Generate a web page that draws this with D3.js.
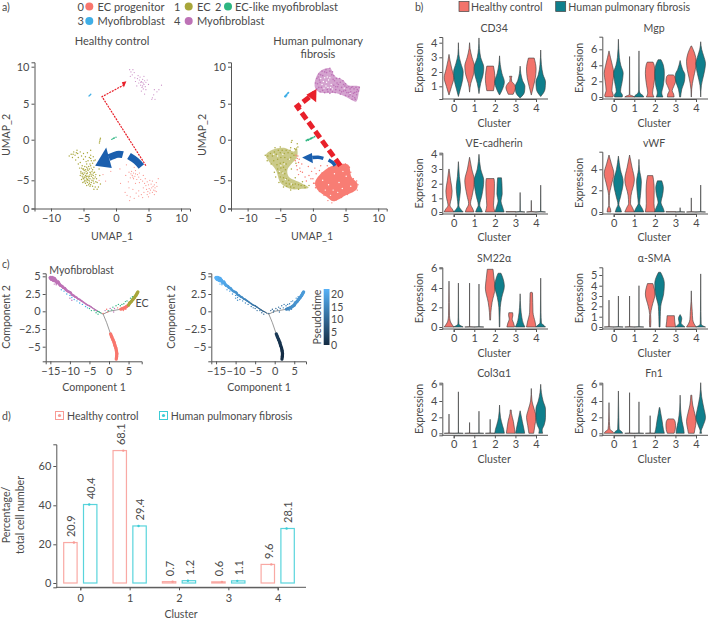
<!DOCTYPE html>
<html><head><meta charset="utf-8">
<script src="https://cdn.jsdelivr.net/npm/d3@7"></script>
<style>html,body{margin:0;padding:0;background:#fff}svg{display:block}</style>
</head><body><svg id="c" width="710" height="622"></svg>
<script>
const FONT='Lato,"Noto Sans",sans-serif';
const clusterColors=['#F8766D','#A8A63A','#2DB682','#3FAEE6','#BD72B6'];
const clusterLegend=[['0','EC progenitor'],['1','EC'],['2','EC-like myofibroblast'],['3','Myofibroblast'],['4','Myofibroblast']];
const groups=['Healthy control','Human pulmonary fibrosis'];
const violinColors=['#F2736B','#0F7F8C'];
const clusters=[0,1,2,3,4];

// UMAP clouds (UMAP_1, UMAP_2)
const hPurple=[[2.1,9.6],[2.3,9.3],[2.6,9.6],[2.8,9.2],[2.5,8.9],[2.2,8.7],[2.9,8.5],[3.3,8.4],[3.6,8.2],[3.9,8],[4.1,8.3],[4.4,8.1],[4.6,7.9],[3.5,7.8],[3.8,7.5],[4,7.2],[4.3,7.6],[4.5,7.3],[4.2,7],[3.9,6.7],[4.6,6.9],[5,7.6],[3.2,7.4],[3,8],[4.8,8.2],[5.6,5.8],[6,5.6],[5.8,6.2],[6.3,6.6],[5.9,6.9],[7,7.5],[6.6,6.9],[5.5,5.6],[4.4,6.3],[4,7.9],[3.7,8.6],[3.4,8.8],[4.3,8.7],[3.8,7.9],[4.2,7.8],[4.1,7.4]];
const hBlue=[[-4.15,6.05],[-4.05,6.12],[-3.95,6.2],[-3.88,6.28]];
const hGreen=[[-0.65,0.05],[-0.5,0.12],[-0.38,0.2],[-0.25,0.24],[0,0.35]];
const hOlive=[[-2.55,-0.4],[-2.5,-0.2],[-2.45,0],[-2.4,0.2],[-7.2,-2],[-6.9,-1.8],[-6.7,-2.2],[-6.5,-1.5],[-6.3,-1.9],[-6,-1.3],[-5.9,-1.7],[-6.2,-2.5],[-5.8,-2.2],[-5.5,-1.5],[-5.3,-2],[-5,-1.7],[-4.7,-2.1],[-4.4,-1.6],[-4.1,-2.2],[-3.9,-1.9],[-3.5,-2.1],[-3.2,-2.5],[-3.8,-2.6],[-4.3,-2.6],[-3.6,-2.9],[-4,-3],[-5.5,-2.8],[-5.2,-3.2],[-5.8,-3],[-5.6,-3.5],[-5.1,-3.6],[-4.8,-3.3],[-4.5,-3.4],[-4.2,-3.3],[-3.8,-3.5],[-3.4,-3.4],[-5.4,-3.9],[-5.1,-4.1],[-4.9,-3.8],[-4.6,-3.9],[-4.3,-3.8],[-4,-4],[-3.7,-3.9],[-3.3,-4],[-5.5,-4.4],[-5.2,-4.5],[-5,-4.3],[-4.7,-4.4],[-4.5,-4.2],[-4.3,-4.5],[-4,-4.3],[-3.8,-4.5],[-3.5,-4.4],[-3.1,-4.3],[-5.3,-4.9],[-5,-4.8],[-4.8,-5],[-4.5,-4.8],[-4.3,-5],[-4,-4.8],[-3.7,-5],[-3.4,-4.8],[-3,-4.8],[-5.1,-5.3],[-4.7,-5.4],[-4.4,-5.3],[-4.1,-5.4],[-3.8,-5.3],[-3.4,-5.4],[-2.9,-5.3],[-4.5,-5.7],[-4,-5.8],[-3.6,-5.8],[-3.2,-5.9],[-2.7,-5.9],[-3.4,-6.2],[-2.9,-6.2],[-2.4,-5.5],[-2.5,-4.4],[-2.6,-3.6],[-3,-3.1],[-3.9,-1.3],[-4.9,-4.6],[-4.6,-4.6],[-4.2,-4.7],[-3.9,-4.1],[-4.4,-4.1],[-4.8,-4.1],[-4.1,-5.1],[-3.6,-4.7],[-5.2,-4.2],[-4.6,-5.1],[-5.4,-4.1],[-5,-3.6],[-4.7,-3.7],[-4.4,-3.6],[-4.1,-3.6],[-3.6,-3.7],[-3.5,-4.1],[-3.2,-4.6],[-3.7,-4.3],[-4.1,-4.5],[-4.5,-4.5],[-4.8,-4.7],[-5.1,-4.7],[-4.4,-4.9],[-4.9,-5.2],[-4.2,-5.6],[-3.9,-5.6],[-3.5,-5.1],[-3.1,-5.2],[-6.6,-1.8],[-6.1,-1.6],[-5,-2.4],[-4.6,-2.7],[-3.9,-2.3],[-3.4,-2.6],[-4.5,-3],[-3.9,-3.2],[-5.3,-3.5]];
const hSalmon=[[2,-4],[2.4,-3.9],[2.7,-4.1],[3,-3.8],[2.5,-4.4],[2.9,-4.5],[3.3,-4.3],[3.6,-4.1],[2.2,-4.7],[2.7,-4.8],[3.2,-4.9],[3.5,-4.6],[3.8,-4.9],[1.9,-5.2],[3,-5.4],[3.6,-5.3],[4.1,-5.1],[4.4,-5.4],[4.8,-5.2],[5.2,-5],[5.6,-5.1],[4.6,-5.7],[5,-5.6],[5.4,-5.5],[5.9,-5.6],[6.2,-5.3],[4.2,-6],[4.7,-6.2],[5.1,-6.1],[5.5,-6],[5.8,-6.3],[6,-6],[6.2,-6.5],[5.6,-6.6],[5.2,-6.7],[4.8,-6.9],[4.3,-6.6],[3.9,-6.9],[3.5,-6.4],[3.1,-6.7],[2.6,-6.2],[2,-6],[1.4,-6.6],[1.7,-7],[2.2,-7.2],[2.8,-7.4],[3.5,-7.1],[4.1,-7.3],[5,-7.2],[5.9,-6.9],[6.3,-5.8],[6.5,-4.8],[0.6,-3.6],[1.5,-4.4],[-0.8,-3.9],[-2,-4.3],[-1.6,-5.1],[-2.6,-5],[1.6,-3.1],[2.8,-3.4],[4.2,-4.4],[2.1,-7.7],[0.7,-5.4],[4.5,-4.8],[2.6,-4.6],[3,-4.2],[2.3,-4.2],[5.7,-5.8],[5.3,-6.3],[6,-6.4],[4.9,-6.5]];

const fPurpleOutline=[[0.35,8.2],[1.1,9.4],[2.6,9.8],[3.4,8.7],[4.6,8.2],[5.4,7.5],[7.15,7.3],[7.05,6.6],[6.65,5.3],[5.9,5.5],[5.1,5.9],[3.6,6.4],[1.1,6.5],[0.35,7.1]];
const fOliveOutline=[[-7.2,-1.9],[-6.2,-1.25],[-4.45,-1],[-2.9,-1.45],[-2.5,-.9],[-2.4,-2.1],[-3.2,-2.9],[-3.9,-3.7],[-3.7,-4.55],[-2.2,-5.2],[-0.65,-6],[-1.9,-6.15],[-3.4,-6.15],[-4.9,-5.4],[-5.7,-3.7],[-6.9,-2.5]];
const fSalmonOutline=[[0.35,-5.2],[1.9,-3.7],[3.6,-3.1],[5.4,-3.1],[5.9,-4.55],[6.8,-5.4],[6.7,-6.2],[4.9,-7.05],[3.1,-7.8],[2.1,-7.2],[0.6,-6.15]];
const fPurple=[[0.4,7.8],[0.6,8.4],[0.9,9],[1.4,9.4],[2,9.6],[2.6,9.8],[3,9.3],[3.2,8.8],[3.6,8.4],[4.1,8.4],[4.6,8.1],[5,7.7],[5.5,7.3],[6.1,7.3],[6.6,7.2],[7.1,7.2],[7,6.7],[6.7,6.2],[6.5,5.6],[6,5.6],[5.5,6],[5,6.1],[4.2,6.3],[3.4,6.5],[2.6,6.4],[1.8,6.5],[1.1,6.6],[0.6,7],[4.4,7.2],[5,6.8],[5.8,6.6],[6.2,6.4],[3.8,7.3],[1,8.2],[1.5,8.8],[2.1,9.2],[2.9,8.9],[3.3,8.1],[3.7,7.8],[4.2,7.9],[4.7,7.6],[5.2,7.2],[5.7,7],[6.3,7],[6.8,6.9],[6.4,6.5],[6.1,6],[6.4,5.8],[5.7,6.2],[5.2,6.5],[4.7,6.7],[4.1,6.8],[3.5,6.9],[3,6.6],[2.3,6.6],[1.5,6.8],[0.9,7.2],[0.7,7.7],[1.1,7.9],[1.3,7.2],[3.2,7.5],[3.5,7.3],[2.6,9.4],[1.8,9.3],[1.2,8.9],[0.8,8.6],[2.2,6.9],[2.7,6.9],[4.4,6.6],[5.5,6.5],[6.7,6.6],[5.9,7.2],[4.9,7.4],[3.9,7.6],[3.1,8.3]];
const fBlue=[[-4.3,6],[-4.15,6.12],[-4,6.25],[-3.85,6.4],[-3.75,6.5],[-4.2,5.95],[-4.05,6.1]];
const fGreen=[[-1,-0.1],[-0.8,0],[-0.6,0.05],[-0.4,0.12],[-0.2,0.2],[0,0.3],[0.25,0.42],[-0.7,-0.05],[-0.3,0.18]];
const fOlive=[[-3.3,-0.3],[-3.2,-0.1],[-2.4,-0.5],[-2.3,-0.9],[-2.6,-1.2],[-3.4,-1],[-5,-0.9],[-5.8,-1],[-7.3,-1.9],[-7,-2.6],[-6.4,-3],[-5.9,-4],[-5.7,-4.6],[-5.2,-5.3],[-4.5,-5.9],[-3.4,-6.3],[-2.2,-6.2],[-1.2,-6],[-0.6,-5.7],[-1.6,-5.2],[-2.7,-4.7],[-3.3,-3.6],[-2.6,-2.9],[-6.9,-2],[-6.5,-1.7],[-6.2,-2],[-5.9,-1.5],[-5.6,-1.8],[-5.3,-1.3],[-5,-1.6],[-4.7,-1.3],[-4.4,-1.7],[-4.1,-1.3],[-3.8,-1.6],[-3.5,-1.3],[-3.2,-1.7],[-2.8,-1.1],[-2.9,-1.9],[-3.4,-2.2],[-3.8,-2.4],[-4.3,-2.2],[-4.9,-2.2],[-5.4,-2.4],[-6,-2.6],[-5.5,-3.1],[-5,-2.9],[-4.5,-2.8],[-4.1,-3],[-5.4,-3.6],[-4.9,-3.5],[-4.5,-3.4],[-4.2,-3.7],[-5.2,-4.1],[-4.7,-4],[-4.3,-4.2],[-5,-4.6],[-4.5,-4.7],[-4.1,-4.8],[-3.7,-5],[-4.6,-5.2],[-4.1,-5.4],[-3.6,-5.5],[-3.1,-5.6],[-2.7,-5.5],[-2.2,-5.6],[-1.8,-5.7],[-1.3,-5.7],[-3.4,-5.9],[-2.9,-6],[-4,-5.8]];
const fSalmon=[[-2.6,-1.9],[-2.4,-2.3],[-2.2,-2.8],[-2.5,-3.2],[-2,-3.5],[-1.6,-4],[-2.2,-4.3],[-1.2,-4.6],[-0.6,-4.4],[-1.7,-3],[-0.7,-3.3],[-0.2,-3.9],[0,-4.8],[0.5,-4.2],[1,-3.8],[1.2,-3.2],[2.2,-3.2],[-2.4,-3.7],[-1,-5.1],[-2.1,-2.4],[-2.3,-2],[-1.9,-3.9],[-2.7,-2.6],[0.3,-3.5],[-0.3,-4.8],[0.1,-5.4],[1,-4.6],[1.4,-4.1],[2.4,-3.5],[3.2,-3.3],[4.1,-3],[5,-3],[5.6,-3.4],[5.8,-4],[6.2,-4.8],[6.7,-5.1],[6.9,-5.6],[6.8,-6.3],[6,-6.5],[5.3,-6.9],[4.4,-7.3],[3.6,-7.6],[2.9,-8],[2.3,-7.7],[1.7,-7],[1,-6.5],[0.4,-6],[0.2,-5.4]];
const whiteSpeckle=[[1.2,8.4],[1.8,8.5],[2.4,8.2],[2,7.4],[1.4,7.6],[2.8,7.6],[3,7],[1.7,7.1],[2.3,7.2],[1.6,8],[2.1,7.9],[2.6,8.5],[2.7,7.2],[2.2,8.6],[5.7,6.4],[4.8,7.1],[-5.4,-2],[-4.6,-1.8],[-4.9,-3.2],[-4.6,-4.1],[-3.3,-5.5],[-4.2,-4.9],[-3.6,-2.4],[-6,-1.8],[-5.1,-3.9],[-4.4,-3],[1.5,-5],[2.4,-5.6],[3.3,-4.2],[4,-5.3],[5.1,-4.5],[3.1,-6.3],[4.5,-6.1],[5.8,-5.8],[2.7,-7],[1.9,-6.3],[3.8,-6.6],[4.6,-3.9]];

// Annotation arrows in UMAP coordinates
const hRedPath=[[4.6,-3.2],[-2.15,5.95],[1.35,7.6]];
const hRedHead=[[1.6,8.05],[0.9,7.9],[1.2,7.2]];
const hBlueTail=[[3.9,-3.3],[3.1,-2.6],[2,-2]];
const hBlueBody=[[1.05,-1.85],[0.2,-1.8],[-1.1,-2.2]];
const hBlueHead=[[-3.2,-3.2],[-1.5,-0.95],[-0.65,-3.5]];
const fRedPath=[[4.2,-3.2],[-2.4,4.6],[0.2,6.4]];
const fRedHead=[[0.55,7],[-1,6.2],[0.5,5.2]];
const fBlueTail=[[3.4,-3.2],[3,-2.8],[2.4,-2.5]];
const fBlueBody=[[1.6,-2.3],[0.8,-2.15],[-0.1,-2.2]];
const fBlueHead=[[-1.65,-2.2],[-0.15,-1.65],[0,-2.9]];

// Violin profiles: [expression, relative half width], healthy then fibrosis per cluster
const violinCD34=[
[[[.4,0],[1,.55],[1.6,1],[2.2,.6],[2.8,.2],[3.2,0]],[[.3,0],[.8,.4],[1.5,.9],[2,1],[2.6,.5],[3.2,.1],[4,0]]],
[[[.6,0],[1.2,.25],[1.8,.8],[2.4,1],[3,.5],[3.6,.1],[4,0]],[[.5,0],[1.2,.35],[1.8,.85],[2.3,1],[3,.35],[3.6,.1],[4.3,0]]],
[[[.7,.7],[.9,.8],[1.5,1],[2,.9],[2.4,.7]],[[.4,0],[.8,.6],[1.3,1],[1.9,.5],[2.5,.15],[3.1,0]]],
[[[.45,.5],[.6,.7],[.9,1],[1.2,.6],[1.35,.2],[1.55,.15],[1.7,.25]],[[.2,0],[.6,.9],[1,1],[1.4,.5],[1.9,.15],[2.4,0]]],
[[[.4,0],[1,.45],[1.6,.85],[2.2,1],[2.95,.6]],[[.3,0],[.8,.9],[1.3,1],[1.8,.5],[2.5,.15],[3.5,0]]]];
const violinMgp=[
[[[0,.8],[.2,.9],[.8,.6],[2,.8],[3,1],[4,.7],[5,.3],[5.8,0]],[[0,.8],[.2,.85],[.7,.45],[2,.8],[3,1],[4,.5],[5,.2],[7.2,0]]],
[[[0,1],[.15,.6],[.3,.05],[5.1,0]],[[0,1],[.2,.8],[.5,.2],[1,.05],[5.8,0]]],
[[[0,.8],[.5,.5],[1.5,.75],[3,1],[4,.85],[4.4,.6]],[[0,.7],[.5,.45],[1.5,.8],[3,1],[4,.8],[4.7,.3]]],
[[[0,.7],[.4,.6],[.8,.3],[1.3,.6],[2,1],[2.6,.85],[2.8,.5]],[[0,.1],[1,.35],[2,.9],[2.8,1],[3.5,.5],[4.6,0]]],
[[[0,.02],[1,.08],[2.4,.45],[3.5,.85],[4.5,1],[5.5,.7],[6.4,.05]],[[0,0],[1.5,.15],[3,.7],[4.2,1],[5.2,.6],[6,.2],[6.9,0]]]];
const violinVE=[
[[[0,1],[.15,.8],[.5,.2],[1,.5],[1.5,.65],[2.2,.35],[3,.02]],[[0,1],[.15,.6],[.5,.1],[1,.25],[1.7,.45],[2.5,.2],[3.5,0]]],
[[[0,.9],[.2,.7],[.6,.2],[1.2,.55],[2.2,1],[3,.45],[3.8,0]],[[0,.7],[.2,.5],[.5,.15],[1.2,.6],[2.2,1],[3,.35],[4,0]]],
[[[0,1],[.5,.7],[1.2,.85],[2,.9],[2.35,.8]],[[0,.95],[.4,.6],[.8,.3],[1.3,.55],[2,.5],[2.4,.4]]],
[[[0,1],[.03,1]],[[0,1],[.04,.04],[1.4,0]]],
[[[0,1],[.04,.04],[.85,0]],[[0,1],[.04,.04],[1.9,0]]]];
const violinVWF=[
[[[0,.4],[.3,.3],[.6,.05],[1.5,.08],[2.5,.5],[3.6,1],[4.5,.5],[5.3,0]],[[0,.65],[.3,.45],[.7,.1],[1.5,.5],[2.8,1],[4,.4],[5.2,0]]],
[[[0,1],[.4,.6],[.8,.2],[1.5,.3],[3,1],[4.2,.5],[5.3,0]],[[0,1],[.3,.7],[.8,.15],[1.5,.3],[2.8,.5],[4,.1],[4.9,0]]],
[[[0,1],[.8,.8],[2,.85],[3,.7],[3.4,.55]],[[0,1],[.3,.8],[.9,.3],[1.5,.6],[2.2,.8],[2.9,.45]]],
[[[0,1],[.03,1]],[[0,1],[.03,.02],[.4,0]]],
[[[0,1],[.03,.02],[1.3,0]],[[0,1],[.03,.02],[2.5,0]]]];
const violinSM22=[
[[[0,1],[.2,.7],[.6,.25],[1.2,.1],[2.5,.06],[4.7,0]],[[0,1],[.1,.6],[.3,.1],[1,.05],[4.5,0]]],
[[[0,1],[.03,.02],[4.5,0]],[[0,1],[.03,.02],[4.4,0]]],
[[[.7,.08],[1.5,.15],[2.5,.4],[4,1],[5,.8],[5.9,.6]],[[0,.05],[1,.08],[2,.15],[3,.45],[4.2,1],[5,.7],[5.5,.3]]],
[[[0,.8],[.4,.6],[.8,.3],[1.2,.45],[1.45,.4]],[[0,1],[.3,.7],[1,.35],[2,.12],[3.4,0]]],
[[[0,1],[.5,.8],[1.5,.35],[2.5,.3],[3.5,.25],[3.55,.1]],[[0,1],[.15,.7],[.4,.15],[1.5,.06],[5,0]]]];
const violinSMA=[
[[[0,1],[.03,.02],[2.6,0]],[[0,1],[.03,.02],[3,0]]],
[[[0,1],[.03,.02],[3,0]],[[0,1],[.03,.02],[4,0]]],
[[[0,.1],[.6,.15],[1.2,.1],[2,.4],[3.2,1],[4,.7],[4.2,.55]],[[0,.1],[1,.15],[2,.25],[3.2,.85],[4.2,1],[5,.5],[5.25,.2]]],
[[[0,1],[.5,.85],[1.1,.75]],[[0,1],[.15,.6],[.4,.2],[.8,.35],[1.2,0]]],
[[[0,1],[.3,.6],[.7,.3],[1.5,.2],[2.5,.05],[3.5,0]],[[0,1],[.1,.5],[.3,.1],[.7,.08],[1.5,.05],[5.1,0]]]];
const violinCol3=[
[[[0,1],[.03,.02],[2.4,0]],[[0,1],[.03,.02],[5.1,0]]],
[[[0,1],[.03,.02],[1.35,0]],[[0,1],[.03,.02],[2.75,0]]],
[[[0,1],[.03,.02],[1.75,0]],[[0,1],[.5,.85],[1,.6],[2,.2],[3.5,0]]],
[[[0,.9],[.5,.8],[1.5,.55],[2.5,.15],[2.9,.1]],[[0,.95],[.5,.8],[1.5,.45],[2.8,0]]],
[[[0,.5],[.4,.6],[1,.75],[2,1],[3,.6],[4,.15],[5.5,0]],[[0,.4],[.4,.3],[1,.7],[2,1],[3,1],[4,.5],[5,.15],[6,0]]]];
const violinFn1=[
[[[0,1],[.2,.8],[.5,.2],[1.5,.08],[3.8,0]],[[0,.9],[.2,.7],[.5,.15],[2,.08],[5.2,0]]],
[[[0,1],[.03,.02],[5,0]],[[0,1],[.03,.02],[3.9,0]]],
[[[0,1],[.03,.02],[2.2,0]],[[0,1],[.5,.8],[1.5,.55],[2.5,.25],[3.2,.05]]],
[[[0,.7],[.5,.95],[1,1],[1.5,.9],[1.8,.6]],[[0,.85],[.5,.75],[1.5,.4],[3,.1],[4.7,0]]],
[[[0,.6],[.5,.75],[1.5,1],[2.5,.7],[3.5,.3],[4.7,.1]],[[0,.2],[.3,.1],[.8,.4],[2,1],[3,.7],[4.5,.2],[6.2,0]]]];

// Trajectory: [component1, component2, cluster, pseudotime]
const trajMyo=[[-15,4.8,4,20],[-14.7,4.6,4,20],[-14.5,4.8,4,20],[-14.3,4.5,4,20],[-14,4.4,4,19.5],[-14,4.7,4,19.5],[-13.6,4.4,4,19],[-13.3,4.1,4,19],[-13,4.2,4,19],[-12.7,3.9,4,18.5],[-12.4,3.7,4,18],[-12,3.6,4,18],[-11.7,3.4,4,17.5],[-11.3,3.3,4,17],[-11,3.1,4,17],[-10.6,2.9,4,16.5],[-10.2,2.8,4,16],[-9.8,2.7,4,15.5],[-9.5,2.4,4,15],[-9.1,2.3,4,15],[-8.7,2.1,4,14.5],[-8.3,2,4,14],[-7.9,1.8,4,14],[-7.5,1.7,4,13.5],[-7,1.5,4,13],[-6.5,1.3,4,12.5],[-6,1.1,4,12],[-5.5,.9,4,11.5],[-5,.8,4,11],[-4.5,.6,4,10.5],[-4,.4,4,10],[-3.5,.2,4,9.5],[-3,0,4,9],[-2.5,-.1,2,8.5],[-2,-.3,2,8]];
const trajMyoScatter=[[-12.2,3.1,3,18],[-11.5,2.9,3,17],[-10.8,2.5,3,16],[-10,2.3,3,15.5],[-9.5,2,3,15],[-8.9,1.7,3,14.5],[-8.2,1.5,3,14],[-7.5,1.2,3,13.5],[-6.8,1,3,13],[-6,.7,3,12],[-13.5,3.8,4,19],[-14,3.9,4,19.5],[-10,1.9,4,15],[-9.5,1.6,4,15],[-5,.4,2,11],[-4.5,.1,2,10.5],[-3.8,.1,2,10],[-3.3,-.2,2,9.5],[-5.5,.5,3,11.5],[-2.8,-.4,2,9]];
const trajEC=[[3,.3,0,13],[3.5,.4,0,13.5],[4,.5,0,14],[4.5,.7,0,14.5],[5,.9,0,15],[5.3,1.2,1,15],[5.7,1.4,1,15.5],[6.1,1.7,1,15.5],[6.5,2,1,16],[6.9,2.3,1,16],[7.2,2.6,1,16.5],[7.4,2.8,1,16.5]];
const trajECScatter=[[-1.5,-.3,0,8],[-1,.1,4,8.5],[-.6,.3,0,9],[-.2,.1,2,9],[.3,.4,4,9.5],[.7,.2,2,10],[1,.6,2,10.5],[1.4,.4,4,10.5],[1.8,.8,2,11],[2.2,.5,0,11.5],[2.4,1,2,11.5],[2.9,.8,2,12],[3.3,1,2,12.5],[3.8,1.1,2,13],[4.2,1.4,2,13.5],[4.6,1.5,2,14],[4.3,.3,0,14],[3.7,.1,0,13.5],[5.5,1.9,2,15],[6,2.1,2,15.5],[1.2,-.1,4,10],[-.3,-.1,0,9]];
const trajProg=[[.4,-3.2,0,2.5],[.7,-3.6,0,2.2],[1,-4,0,2],[1.3,-4.4,0,1.6],[1.5,-4.8,0,1.2],[1.75,-5.2,0,1],[1.9,-5.6,0,.6],[2,-6,0,.4],[1.95,-6.4,0,.2],[1.85,-6.8,0,0]];
const backbone=[[[-1.5,-.4],[-5,.75]],[[-1.5,-.4],[0,0],[3,.3]],[[-1.5,-.4],[-.6,-1.6],[.4,-3.2]]];
const ptColors=['#132B43','#56B1F7'];
const ptTicks=[0,5,10,15,20];

// Panel d
const pctHealthy=[20.9,68.1,.7,.6,9.6];
const pctFibrosis=[40.4,29.4,1.2,1.1,28.1];
const barColors=['#F89A94','#3CCCD6'];

const svg=d3.select('#c').style('font-family',FONT);
const INK='#4a4a4a',AX='#555',SQUEEZE=.92;
function squeeze(t){const n=t.node();const w=n.getComputedTextLength();
  t.attr('textLength',w*SQUEEZE).attr('lengthAdjust','spacingAndGlyphs');return t;}
function txt(x,y,s,o={}){const t=svg.append('text').attr('x',x).attr('y',y).attr('dy','.35em').text(s)
  .attr('fill',INK).attr('font-size',o.size||11.5).attr('text-anchor',o.anchor||'start');
  if(o.rot!=null)t.attr('transform',`rotate(${o.rot} ${x} ${y})`);return squeeze(t);}
function axes(x,y,xy,yx,xt,yt,xf,yf,pad){
  const ax=d3.axisBottom(x).tickValues(xt).tickSize(3).tickPadding(pad||3);if(xf)ax.tickFormat(xf);
  const ay=d3.axisLeft(y).tickValues(yt).tickSize(3).tickPadding(2);if(yf)ay.tickFormat(yf);
  [svg.append('g').attr('transform',`translate(0,${xy})`).call(ax),
   svg.append('g').attr('transform',`translate(${yx},0)`).call(ay)].forEach(g=>{
    g.selectAll('path,line').attr('stroke',AX).attr('stroke-width',1);
    g.selectAll('text').attr('fill',INK).style('font-family',FONT).style('font-size','11px');
  });
}
const minus=d=>String(d).replace('-','\u2212');

// Panel labels
txt(2,7,'a)');txt(415,7,'b)');txt(2,264,'c)');txt(2,416,'d)');

// Legend a
const legX=[[77.5,89.3,97.5],[174,188.7,197],[215,228,235],[77.5,89.3,97.5],[174,188.7,197]];
const legY=[6.5,6.5,6.5,21,21];
clusterLegend.forEach((d,i)=>{txt(legX[i][0],legY[i],d[0],{size:12});
  svg.append('circle').attr('cx',legX[i][1]).attr('cy',legY[i]).attr('r',4).attr('fill',clusterColors[i]);
  txt(legX[i][2],legY[i],d[1],{size:12});});

// UMAP panels
const yU=d3.scaleLinear().domain([10.65,10,5,0,-5,-8.75]).range([62.3,66.7,103.7,139.7,180.3,208.5]);
const yuTicks=[10,5,0,-5,-8.75];
const yuFmt=d=>d===-8.75?'0':minus(d);
function umap(x0,x1,opts){
  const x=d3.scaleLinear().domain(opts.xd).range([x0,x1]);
  axes(x,yU,208.5,x0,[-10,-5,0,5,10],yuTicks,minus,yuFmt);
  const line=d3.line().x(d=>x(d[0])).y(d=>yU(d[1]));
  const closed=d3.line().x(d=>x(d[0])).y(d=>yU(d[1])).curve(d3.curveCatmullRomClosed);
  opts.polys.forEach(p=>svg.append('path').attr('d',closed(p[0])).attr('fill',clusterColors[p[1]]).attr('fill-opacity',p[2]));
  opts.clouds.forEach(c=>svg.append('g').selectAll('circle').data(c[0]).join('circle')
    .attr('cx',d=>x(d[0])).attr('cy',d=>yU(d[1])).attr('r',c[2]).attr('fill',c[1]));
  const o=opts.arrows;
  svg.append('path').attr('d',line(o.red)).attr('fill','none').attr('stroke','#E8202A').attr('stroke-width',o.rw).attr('stroke-dasharray',o.rd).attr('stroke-linejoin','miter');
  svg.append('path').attr('d',line(o.rh)+'Z').attr('fill','#E8202A');
  const cv=d3.line().x(d=>x(d[0])).y(d=>yU(d[1])).curve(d3.curveCardinal);
  svg.append('path').attr('d',cv(o.bt)).attr('fill','none').attr('stroke','#1B5FAE').attr('stroke-width',o.bw);
  svg.append('path').attr('d',cv(o.bb)).attr('fill','none').attr('stroke','#1B5FAE').attr('stroke-width',o.bw);
  svg.append('path').attr('d',line(o.bh)+'Z').attr('fill','#1B5FAE');
}
const xdL=[(34.5-116)/6.5,(190-116)/6.5], xdR=[(231-312.9)/6.53,(386.7-312.9)/6.53];
umap(34.5,190,{xd:xdL,polys:[],clouds:[[hPurple,'#C98BC4',.6],[hBlue,clusterColors[3],.7],[hGreen,clusterColors[2],.7],[hOlive,clusterColors[1],.7],[hSalmon,'#F9918A',.6]],
  arrows:{red:hRedPath,rh:hRedHead,rw:1.2,rd:'2 1',bt:hBlueTail,bb:hBlueBody,bh:hBlueHead,bw:7}});
umap(231,386.7,{xd:xdR,polys:[[fPurpleOutline,4,.65],[fOliveOutline,1,.6],[fSalmonOutline,0,.95]],clouds:[[fPurple,clusterColors[4],.8],[fBlue,clusterColors[3],.9],[fGreen,clusterColors[2],.9],[fOlive,clusterColors[1],.75],[fSalmon,clusterColors[0],.7],[whiteSpeckle,'#fff',.7]],
  arrows:{red:fRedPath,rh:fRedHead,rw:5,rd:'8 3.5',bt:fBlueTail,bb:fBlueBody,bh:fBlueHead,bw:3.5}});
txt(112,41,groups[0],{size:12,anchor:'middle'});
txt(318,41,'Human pulmonary',{size:12,anchor:'middle'});txt(318,54,'fibrosis',{size:12,anchor:'middle'});
[[112,'UMAP_1'],[312,'UMAP_1']].forEach(d=>txt(d[0],236,d[1],{anchor:'middle'}));
[[6,135],[202,135]].forEach(d=>txt(d[0],d[1],'UMAP_2',{anchor:'middle',rot:-90}));

// Legend b & d
[[459,471],[555.7,568.3]].forEach((d,i)=>{svg.append('rect').attr('x',d[0]).attr('y',1.5).attr('width',10).attr('height',10)
  .attr('fill',violinColors[i]).attr('stroke','#444').attr('stroke-width',.7);
  txt(d[1],6.7,groups[i],{size:11.5});});
[[55.5,67],[159.5,170.7]].forEach((d,i)=>{svg.append('rect').attr('x',d[0]).attr('y',411.5).attr('width',8).attr('height',8)
  .attr('fill','#fff').attr('stroke',barColors[i]).attr('stroke-width',1);
  svg.append('circle').attr('cx',d[0]+4).attr('cy',415.5).attr('r',1.6).attr('fill',barColors[i]);
  txt(d[1],415.7,groups[i],{size:11.5});});

// Violin panels
const violinPanels=[
 {name:'CD34',data:violinCD34,col:0,row:0,dom:[4.36,4,3,2,1,.13],rng:[37,42.7,57.3,72,86.3,99],ticks:[1,2,3,4]},
 {name:'Mgp',data:violinMgp,col:1,row:0,dom:[7.5,6,4,2,0,-.25],rng:[36.7,49.3,65.3,81.3,97,99],ticks:[0,2,4,6]},
 {name:'VE-cadherin',data:violinVE,col:0,row:1,dom:[4.1,4,3,2,1,0,-.14],rng:[152.7,154.3,169,183.7,198.3,212,214],ticks:[0,1,2,3,4]},
 {name:'vWF',data:violinVWF,col:1,row:1,dom:[5.6,4,2,0,-.2],rng:[151.7,169.3,190.3,212,214],ticks:[0,2,4]},
 {name:'SM22\u03B1',data:violinSM22,col:0,row:2,dom:[6.1,6,4,2,0,-.2],rng:[267.3,268.3,288,307.3,327,329],ticks:[0,2,4,6]},
 {name:'\u03B1-SMA',data:violinSMA,col:1,row:2,dom:[5.7,5,4,3,2,1,0,-.2],rng:[267.3,275,285.7,296,306.3,316.7,327,329],ticks:[0,1,2,3,4,5]},
 {name:'Col3\u03B11',data:violinCol3,col:0,row:3,dom:[6.2,6,4,2,0,-.25],rng:[382.7,384.3,401,417.3,433.3,435.3],ticks:[0,2,4,6]},
 {name:'Fn1',data:violinFn1,col:1,row:3,dom:[6.2,6,4,2,0,-.25],rng:[382.7,384.3,401,417.3,433.3,435.3],ticks:[0,2,4,6]}];
const colX=[442.3,602.3],colEnd=[548,708],rowTitle=[27.7,142.7,258,373],rowCl=[123.3,237,353,459.3];
violinPanels.forEach(p=>{
  const xs=colX[p.col];
  const x=d3.scaleLinear().domain([0,4]).range([xs+11.4,xs+93.7]);
  const y=d3.scaleLinear().domain(p.dom).range(p.rng);
  axes(x,y,p.rng[p.rng.length-1],xs,clusters,p.ticks,d3.format('d'),d3.format('d'),2);
  svg.append('line').attr('x1',xs).attr('x2',colEnd[p.col]).attr('y1',p.rng[p.rng.length-1]).attr('y2',p.rng[p.rng.length-1]).attr('stroke',AX);
  p.data.forEach((byGroup,c)=>byGroup.forEach((prof,g)=>{
    const cx=x(c)+(g?4.7:-4.7);
    const area=d3.area().y(d=>y(d[0])).x0(d=>cx-d[1]*4.8).x1(d=>cx+d[1]*4.8).curve(prof.length>3?d3.curveMonotoneY:d3.curveLinear);
    svg.append('path').attr('d',area(prof)+'Z').attr('fill',violinColors[g]).attr('stroke','#3a3a3a').attr('stroke-width',.6);
  }));
  const mid=(colX[p.col]+colEnd[p.col])/2;
  txt(mid-1,rowTitle[p.row],p.name,{anchor:'middle',size:11.5});
  txt(mid-1,rowCl[p.row],'Cluster',{anchor:'middle'});
  const ym=(p.rng[0]+p.rng[p.rng.length-1])/2;
  txt(xs-23,ym,'Expression',{anchor:'middle',rot:-90});
});

// Trajectory panels
const yT=d3.scaleLinear().domain([5.43,5,2.5,0,-2.5,-5,-7.1]).range([273.3,276.3,294,311.3,329,346.7,361.3]);
const ptScale=d3.scaleLinear().domain([0,20]).range(ptColors);
function traj(x0,x1,zero,colorFn){
  const x=d3.scaleLinear().domain([(x0-zero)/3.91,(x1-zero)/3.91]).range([x0,x1]);
  axes(x,yT,361.3,x0,[-15,-10,-5,0,5],[-5,-2.5,0,2.5,5],minus,minus,3);
  const ln=d3.line().x(d=>x(d[0])).y(d=>yT(d[1]));
  backbone.forEach(b=>svg.append('path').attr('d',ln(b)).attr('fill','none').attr('stroke','#555').attr('stroke-width',.6));
  [trajMyo,trajEC,trajProg].forEach(pts=>{
    for(let i=1;i<pts.length;i++)svg.append('line').attr('x1',x(pts[i-1][0])).attr('y1',yT(pts[i-1][1])).attr('x2',x(pts[i][0])).attr('y2',yT(pts[i][1]))
      .attr('stroke',colorFn(pts[i])).attr('stroke-width',pts===trajMyo?3.8-(i/pts.length)*3:3.2).attr('stroke-linecap','round');
  });
  svg.append('g').selectAll('circle').data([...trajMyoScatter,...trajECScatter]).join('circle')
    .attr('cx',d=>x(d[0])).attr('cy',d=>yT(d[1])).attr('r',.7).attr('fill',colorFn);
}
traj(45.7,141.7,109,d=>clusterColors[d[2]]);
traj(211.3,306,274.7,d=>ptScale(d[3]));
txt(49.3,270,'Myofibroblast');txt(135.5,303,'EC');
txt(94,387,'Component 1',{anchor:'middle'});txt(259,387,'Component 1',{anchor:'middle'});
txt(6,317,'Component 2',{anchor:'middle',rot:-90});txt(171,317,'Component 2',{anchor:'middle',rot:-90});
// colour bar
const cbY=d3.scaleLinear().domain([0,20]).range([345,293.7]);
const defs=svg.append('defs').append('linearGradient').attr('id','pt').attr('x1',0).attr('x2',0).attr('y1',1).attr('y2',0);
defs.append('stop').attr('offset',0).attr('stop-color',ptColors[0]);defs.append('stop').attr('offset',1).attr('stop-color',ptColors[1]);
svg.append('rect').attr('x',323.7).attr('y',289).attr('width',5.8).attr('height',56).attr('fill','url(#pt)');
ptTicks.forEach(t=>txt(331,cbY(t),t,{}));
txt(316.7,317,'Pseudotime',{anchor:'middle',rot:-90});

// Panel d
const xB=d3.scaleLinear().domain([0,4]).range([80.3,277.7]);
const yB=d3.scaleLinear().domain([71.4,60,40,20,0,-2.2]).range([444.3,466,505.3,544.3,583,587.3]);
axes(xB,yB,587.3,56.3,clusters,[0,20,40,60],d3.format('d'),d3.format('d'),4);
svg.append('line').attr('x1',56.3).attr('x2',306).attr('y1',587.3).attr('y2',587.3).attr('stroke',AX);
[pctHealthy,pctFibrosis].forEach((vals,g)=>{
  const off=g?9.9:-9.9;
  vals.forEach((v,i)=>{
    const cx=xB(i)+off;
    svg.append('rect').attr('x',cx-6.7).attr('width',13.4).attr('y',yB(v)).attr('height',yB(0)-yB(v))
      .attr('fill','#fff').attr('stroke',barColors[g]).attr('stroke-width',1.2).attr('stroke-opacity',.85);
    svg.append('circle').attr('cx',cx+(g?-1:3.5)).attr('cy',yB(v)).attr('r',1.2).attr('fill',barColors[g]);
    svg.append('text').attr('transform',`translate(${cx+1},${yB(v)-5.5}) rotate(-90)`).attr('dy','.35em').attr('fill',INK).attr('font-size',11).text(v.toFixed(1));
  });
});
txt(181,614,'Cluster',{anchor:'middle'});
txt(6,515,'Percentage/',{anchor:'middle',rot:-90});txt(20,515,'total cell number',{anchor:'middle',rot:-90});
</script></body></html>
